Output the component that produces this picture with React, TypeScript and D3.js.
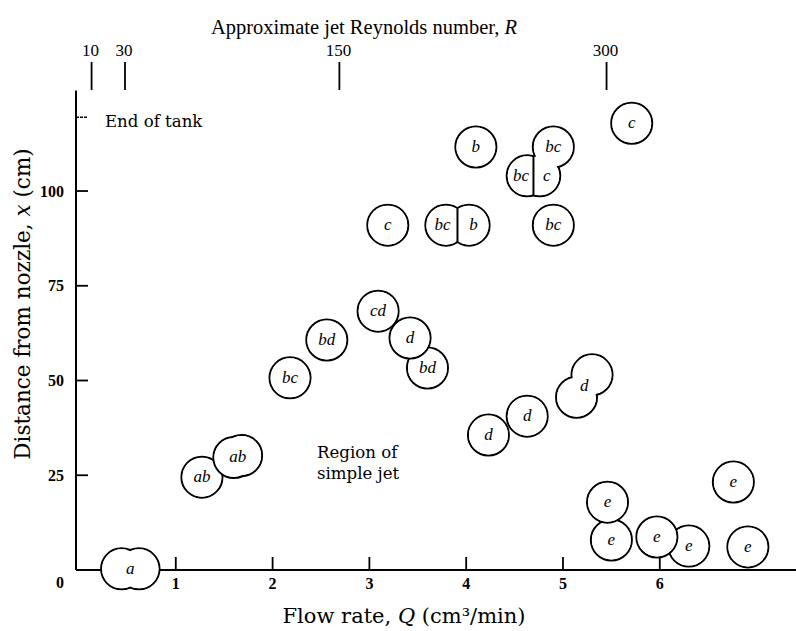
import React from 'react';
import * as d3 from 'd3';

const W = 796;
const H = 631;

// Axis ticks
const flowTicks = [1, 2, 3, 4, 5, 6];
const distanceTicks = [25, 50, 75, 100];
const reynoldsTicks = [10, 30, 150, 300];
const reynoldsTickFlow = [0.13, 0.475, 2.69, 5.45];
const endOfTankDistance = 119.5;

// Single observations (flow rate Q, distance x, regime label)
const singles = [
  { label: 'ab', q: 1.27, x: 24.5 },
  { label: 'bc', q: 2.18, x: 50.7 },
  { label: 'bd', q: 2.56, x: 60.7 },
  { label: 'cd', q: 3.09, x: 68.3 },
  { label: 'bd', q: 3.6, x: 53.3 },
  { label: 'd', q: 3.42, x: 61.2 },
  { label: 'c', q: 3.19, x: 91.0 },
  { label: 'b', q: 4.1, x: 111.6 },
  { label: 'bc', q: 4.9, x: 91.0 },
  { label: 'c', q: 5.71, x: 117.9 },
  { label: 'd', q: 4.23, x: 35.6 },
  { label: 'd', q: 4.63, x: 40.6 },
  { label: 'e', q: 5.5, x: 7.9 },
  { label: 'e', q: 5.46, x: 17.9 },
  { label: 'e', q: 6.3, x: 6.3 },
  { label: 'e', q: 5.97, x: 8.7 },
  { label: 'e', q: 6.76, x: 23.2 },
  { label: 'e', q: 6.91, x: 6.1 },
];

// Repeated observations drawn as one merged outline
const blobs = [
  { label: 'a', q: [0.44, 0.62], x: [0.3, 0.3] },
  { label: 'ab', q: [1.6, 1.68], x: [29.7, 30.2] },
  { label: 'd', q: [5.14, 5.3], x: [45.6, 51.5] },
];

// Observations split by a dividing chord
const splits = [
  { labels: ['bc', 'b'], q: [3.79, 4.03], x: [91.0, 91.0], joined: null as null | { label: string; q: number; x: number } },
  { labels: ['bc', 'c'], q: [4.63, 4.76], x: [104.0, 104.0], joined: { label: 'bc', q: 4.9, x: 111.6 } },
];

const R = 20.5;
const SW = 2;

const xScale = d3.scaleLinear().domain([0, 7.4]).range([79, 795.3]);
const yScale = d3.scaleLinear().domain([0, 126.5]).range([570, 90.6]);

const serifWide = 'DejaVu Serif, serif';
const serifNarrow = 'Liberation Serif, Times New Roman, serif';

type C = { cx: number; cy: number };

function Group({ circles, chords, labels }: { circles: C[]; chords: [C, C][]; labels: { x: number; y: number; t: string }[] }) {
  return (
    <g>
      {circles.map((c, i) => (
        <circle key={'s' + i} cx={c.cx} cy={c.cy} r={R} fill="white" stroke="black" strokeWidth={SW} />
      ))}
      {circles.map((c, i) => (
        <circle key={'f' + i} cx={c.cx} cy={c.cy} r={R - SW / 2} fill="white" stroke="none" />
      ))}
      {chords.map(([a, b], i) => {
        const dx = b.cx - a.cx;
        const dy = b.cy - a.cy;
        const d = Math.hypot(dx, dy);
        const h = Math.sqrt(Math.max(0, R * R - (d / 2) * (d / 2)));
        const mx = (a.cx + b.cx) / 2;
        const my = (a.cy + b.cy) / 2;
        const ux = -dy / d;
        const uy = dx / d;
        return (
          <line key={'c' + i} x1={mx + ux * h} y1={my + uy * h} x2={mx - ux * h} y2={my - uy * h} stroke="black" strokeWidth={SW} />
        );
      })}
      {labels.map((l, i) => (
        <text key={'t' + i} x={l.x} y={l.y} dy="0.3em" textAnchor="middle" fontFamily={serifNarrow} fontStyle="italic" fontSize={17}>
          {l.t}
        </text>
      ))}
    </g>
  );
}

export default function App() {
  const x0 = xScale(0) - 3;
  const yBase = yScale(0);
  const yTop = yScale(126.5);

  return (
    <svg width={W} height={H} style={{ position: 'absolute', left: 0, top: 0, background: 'white' }}>
      {/* Top Reynolds axis */}
      <text x={364} y={27} dy="0.35em" textAnchor="middle" fontFamily={serifNarrow} fontSize={20.5}>
        Approximate jet Reynolds number, <tspan fontStyle="italic">R</tspan>
      </text>
      {reynoldsTicks.map((r, i) => (
        <g key={'r' + r}>
          <text x={xScale(reynoldsTickFlow[i]) - 1} y={50} dy="0.35em" textAnchor="middle" fontFamily={serifNarrow} fontSize={17}>
            {r}
          </text>
          <line x1={xScale(reynoldsTickFlow[i])} x2={xScale(reynoldsTickFlow[i])} y1={62} y2={90} stroke="black" strokeWidth={1.8} />
        </g>
      ))}

      {/* Axes */}
      <line x1={x0} x2={x0} y1={yTop} y2={yBase} stroke="black" strokeWidth={2} />
      <line x1={x0} x2={W} y1={yBase} y2={yBase} stroke="black" strokeWidth={2} />

      {distanceTicks.map((t) => (
        <g key={'y' + t}>
          <line x1={x0} x2={x0 + 12} y1={yScale(t)} y2={yScale(t)} stroke="black" strokeWidth={1.8} />
          <text x={64} y={yScale(t)} dy="0.35em" textAnchor="end" fontFamily={serifNarrow} fontWeight="bold" fontSize={16}>
            {t}
          </text>
        </g>
      ))}
      <text x={64} y={yBase + 12} dy="0.35em" textAnchor="end" fontFamily={serifNarrow} fontWeight="bold" fontSize={16}>
        0
      </text>
      <line x1={x0} x2={x0 + 12} y1={yScale(endOfTankDistance)} y2={yScale(endOfTankDistance)} stroke="black" strokeWidth={1.5} strokeDasharray="3,1" />
      <text x={105} y={yScale(endOfTankDistance) + 4} dy="0.35em" fontFamily={serifWide} fontSize={16.6}>
        End of tank
      </text>

      {flowTicks.map((t) => (
        <g key={'x' + t}>
          <line x1={xScale(t)} x2={xScale(t)} y1={yBase} y2={yBase - 13} stroke="black" strokeWidth={1.8} />
          <text x={xScale(t)} y={yBase + 13} dy="0.35em" textAnchor="middle" fontFamily={serifNarrow} fontWeight="bold" fontSize={16}>
            {t}
          </text>
        </g>
      ))}

      {/* Axis titles */}
      <text x={404} y={616} dy="0.35em" textAnchor="middle" fontFamily={serifWide} fontSize={21}>
        Flow rate, <tspan fontStyle="italic">Q</tspan> (cm³/min)
      </text>
      <text transform="translate(22,304) rotate(-90)" dy="0.35em" textAnchor="middle" fontFamily={serifWide} fontSize={21.5}>
        Distance from nozzle, <tspan fontStyle="italic">x</tspan> (cm)
      </text>

      <text x={317} y={452} dy="0.35em" fontFamily={serifWide} fontSize={16.6}>
        Region of
      </text>
      <text x={317} y={473} dy="0.35em" fontFamily={serifWide} fontSize={16.6}>
        simple jet
      </text>

      {/* Observations */}
      {singles.map((s, i) => {
        const c = { cx: xScale(s.q), cy: yScale(s.x) };
        return <Group key={'sg' + i} circles={[c]} chords={[]} labels={[{ x: c.cx, y: c.cy, t: s.label }]} />;
      })}
      {blobs.map((b, i) => {
        const cs = b.q.map((q, j) => ({ cx: xScale(q), cy: yScale(b.x[j]) }));
        const lx = d3.mean(cs, (c) => c.cx) as number;
        const ly = d3.mean(cs, (c) => c.cy) as number;
        return <Group key={'bl' + i} circles={cs} chords={[]} labels={[{ x: lx, y: ly, t: b.label }]} />;
      })}
      {splits.map((s, i) => {
        const a = { cx: xScale(s.q[0]), cy: yScale(s.x[0]) };
        const b = { cx: xScale(s.q[1]), cy: yScale(s.x[1]) };
        const chordX = (a.cx + b.cx) / 2;
        const circles = [a, b];
        const labels = [
          { x: (a.cx - R + chordX) / 2 + 1, y: a.cy, t: s.labels[0] },
          { x: (b.cx + R + chordX) / 2, y: b.cy, t: s.labels[1] },
        ];
        if (s.joined) {
          const j = { cx: xScale(s.joined.q), cy: yScale(s.joined.x) };
          circles.push(j);
          labels.push({ x: j.cx, y: j.cy, t: s.joined.label });
        }
        return <Group key={'sp' + i} circles={circles} chords={[[a, b]]} labels={labels} />;
      })}
    </svg>
  );
}
